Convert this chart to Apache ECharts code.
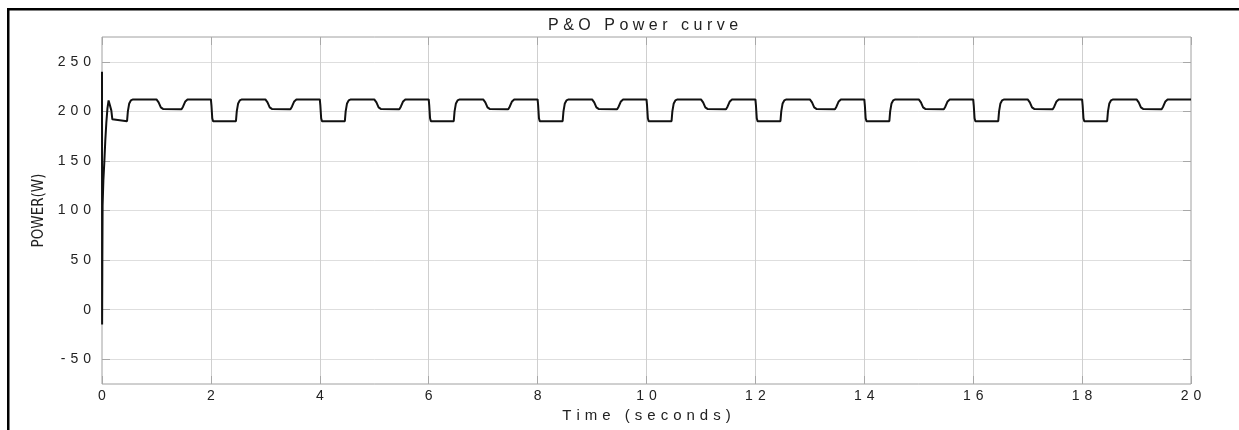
<!DOCTYPE html>
<html>
<head>
<meta charset="utf-8">
<script src="https://cdn.jsdelivr.net/npm/echarts@6/dist/echarts.min.js"></script>
<style>
  html, body { margin: 0; padding: 0; background: #ffffff; }
  #chart { width: 1239px; height: 430px; }
</style>
</head>
<body>
<div id="chart"></div>
<script>
// ---- data ----
const titleText = 'P&O Power curve';
const xName = 'Time (seconds)';
const yName = 'POWER(W)';
const xTicks = [0, 2, 4, 6, 8, 10, 12, 14, 16, 18, 20];
const yTicks = [-50, 0, 50, 100, 150, 200, 250];

const time = [
  0, 0.002, 0.006, 0.011, 0.025, 0.042, 0.06, 0.079, 0.1, 0.121, 0.139, 0.155, 0.171, 0.19, 0.21,
  0.46, 0.475, 0.5, 0.53, 0.57, 1.0, 1.04, 1.08, 1.12, 1.15, 1.46, 1.49, 1.53, 1.57,
  2.0, 2.01, 2.025, 2.04, 2.46, 2.475, 2.5, 2.53, 2.57, 3.0, 3.04, 3.08, 3.12, 3.15, 3.46, 3.49, 3.53, 3.57,
  4.0, 4.01, 4.025, 4.04, 4.46, 4.475, 4.5, 4.53, 4.57, 5.0, 5.04, 5.08, 5.12, 5.15, 5.46, 5.49, 5.53, 5.57,
  6.0, 6.01, 6.025, 6.04, 6.46, 6.475, 6.5, 6.53, 6.57, 7.0, 7.04, 7.08, 7.12, 7.15, 7.46, 7.49, 7.53, 7.57,
  8.0, 8.01, 8.025, 8.04, 8.46, 8.475, 8.5, 8.53, 8.57, 9.0, 9.04, 9.08, 9.12, 9.15, 9.46, 9.49, 9.53, 9.57,
  10.0, 10.01, 10.025, 10.04, 10.46, 10.475, 10.5, 10.53, 10.57, 11.0, 11.04, 11.08, 11.12, 11.15, 11.46, 11.49, 11.53, 11.57,
  12.0, 12.01, 12.025, 12.04, 12.46, 12.475, 12.5, 12.53, 12.57, 13.0, 13.04, 13.08, 13.12, 13.15, 13.46, 13.49, 13.53, 13.57,
  14.0, 14.01, 14.025, 14.04, 14.46, 14.475, 14.5, 14.53, 14.57, 15.0, 15.04, 15.08, 15.12, 15.15, 15.46, 15.49, 15.53, 15.57,
  16.0, 16.01, 16.025, 16.04, 16.46, 16.475, 16.5, 16.53, 16.57, 17.0, 17.04, 17.08, 17.12, 17.15, 17.46, 17.49, 17.53, 17.57,
  18.0, 18.01, 18.025, 18.04, 18.46, 18.475, 18.5, 18.53, 18.57, 19.0, 19.04, 19.08, 19.12, 19.15, 19.46, 19.49, 19.53, 19.57,
  20.0
];

const power = [
  240, -15, 45, 105, 130, 148, 170, 188, 203, 211, 212.5, 209, 201, 192, 190,
  190, 200, 208, 211, 212, 212, 209, 204, 202.5, 202, 202, 205, 210, 212,
  212, 206, 193, 190, 190, 200, 208, 211, 212, 212, 209, 204, 202.5, 202, 202, 205, 210, 212,
  212, 206, 193, 190, 190, 200, 208, 211, 212, 212, 209, 204, 202.5, 202, 202, 205, 210, 212,
  212, 206, 193, 190, 190, 200, 208, 211, 212, 212, 209, 204, 202.5, 202, 202, 205, 210, 212,
  212, 206, 193, 190, 190, 200, 208, 211, 212, 212, 209, 204, 202.5, 202, 202, 205, 210, 212,
  212, 206, 193, 190, 190, 200, 208, 211, 212, 212, 209, 204, 202.5, 202, 202, 205, 210, 212,
  212, 206, 193, 190, 190, 200, 208, 211, 212, 212, 209, 204, 202.5, 202, 202, 205, 210, 212,
  212, 206, 193, 190, 190, 200, 208, 211, 212, 212, 209, 204, 202.5, 202, 202, 205, 210, 212,
  212, 206, 193, 190, 190, 200, 208, 211, 212, 212, 209, 204, 202.5, 202, 202, 205, 210, 212,
  212, 206, 193, 190, 190, 200, 208, 211, 212, 212, 209, 204, 202.5, 202, 202, 205, 210, 212,
  212
];

// ---- helpers ----
const FONT = "'Liberation Sans', Arial, Helvetica, sans-serif";
function spaced(s, mid, last) {
  const ch = Array.from(String(s));
  return ch.map((c, i) => '{' + (i < ch.length - 1 ? mid : last) + '|' + c + '}').join('');
}
const tickRich = {
  d: { fontSize: 14, fontFamily: FONT, color: '#222', padding: [0, 5, 0, 0] },
  e: { fontSize: 14, fontFamily: FONT, color: '#222' }
};

const chart = echarts.init(document.getElementById('chart'), null, { renderer: 'canvas' });

const gridLineH = { show: true, lineStyle: { color: '#dedede', width: 1 } };
const tickStyle = { show: true, inside: true, length: 8, lineStyle: { color: '#a8a8a8', width: 1 } };

chart.setOption({
  backgroundColor: '#ffffff',
  animation: false,
  title: {
    text: spaced(titleText, 't', 'u'),
    left: 548,
    top: 18,
    padding: 0,
    textStyle: {
      fontSize: 16, fontWeight: 'normal', fontFamily: FONT, color: '#222',
      rich: {
        t: { fontSize: 16, fontFamily: FONT, color: '#222', padding: [0, 4.5, 0, 0] },
        u: { fontSize: 16, fontFamily: FONT, color: '#222' }
      }
    }
  },
  grid: {
    left: 102, right: 48, top: 37, bottom: 46,
    show: true, borderColor: '#a0a0a0', borderWidth: 1, backgroundColor: '#ffffff'
  },
  graphic: [
    { type: 'rect', shape: { x: 7, y: 8, width: 1232, height: 2.5 }, style: { fill: '#000' }, silent: true },
    { type: 'rect', shape: { x: 7, y: 8, width: 2.5, height: 422 }, style: { fill: '#000' }, silent: true }
  ],
  xAxis: [
    {
      type: 'value', position: 'bottom', min: 0, max: 20, interval: 2,
      axisLine: { show: false, onZero: false },
      axisTick: tickStyle,
      splitLine: { show: true, lineStyle: { color: '#cfcfcf', width: 1 } },
      axisLabel: {
        margin: 5,
        formatter: v => spaced(v, 'd', 'e'),
        rich: tickRich
      },
      name: spaced(xName, 'n', 'm'),
      nameLocation: 'middle',
      nameGap: 17,
      nameTextStyle: {
        fontSize: 15, fontFamily: FONT, color: '#222',
        rich: {
          n: { fontSize: 15, fontFamily: FONT, color: '#222', padding: [0, 5, 0, 0] },
          m: { fontSize: 15, fontFamily: FONT, color: '#222' }
        }
      }
    },
    {
      type: 'value', position: 'top', min: 0, max: 20, interval: 2,
      axisLine: { show: false, onZero: false },
      axisTick: tickStyle,
      splitLine: { show: false },
      axisLabel: { show: false }
    }
  ],
  yAxis: [
    {
      type: 'value', position: 'left', min: -75, max: 275,
      axisLine: { show: false, onZero: false },
      axisTick: Object.assign({}, tickStyle, { customValues: yTicks }),
      splitLine: gridLineH,
      axisLabel: {
        margin: 11,
        customValues: yTicks,
        formatter: v => spaced(v, 'd', 'e'),
        rich: tickRich
      },
      name: yName,
      nameLocation: 'middle',
      nameGap: 53,
      nameTextStyle: {
        fontSize: 15,
        fontFamily: "'Liberation Sans Narrow', 'Arial Narrow', 'DejaVu Sans Condensed', " + FONT,
        color: '#222'
      }
    },
    {
      type: 'value', position: 'right', min: -75, max: 275,
      axisLine: { show: false, onZero: false },
      axisTick: Object.assign({}, tickStyle, { customValues: yTicks }),
      splitLine: { show: false },
      axisLabel: { show: false, customValues: yTicks }
    }
  ],
  series: [
    {
      name: 'Power',
      type: 'line',
      xAxisIndex: 0,
      yAxisIndex: 0,
      data: time.map((t, i) => [t, power[i]]),
      showSymbol: false,
      symbol: 'none',
      smooth: false,
      lineStyle: { color: '#111', width: 2 },
      clip: true
    }
  ]
});
</script>
</body>
</html>
